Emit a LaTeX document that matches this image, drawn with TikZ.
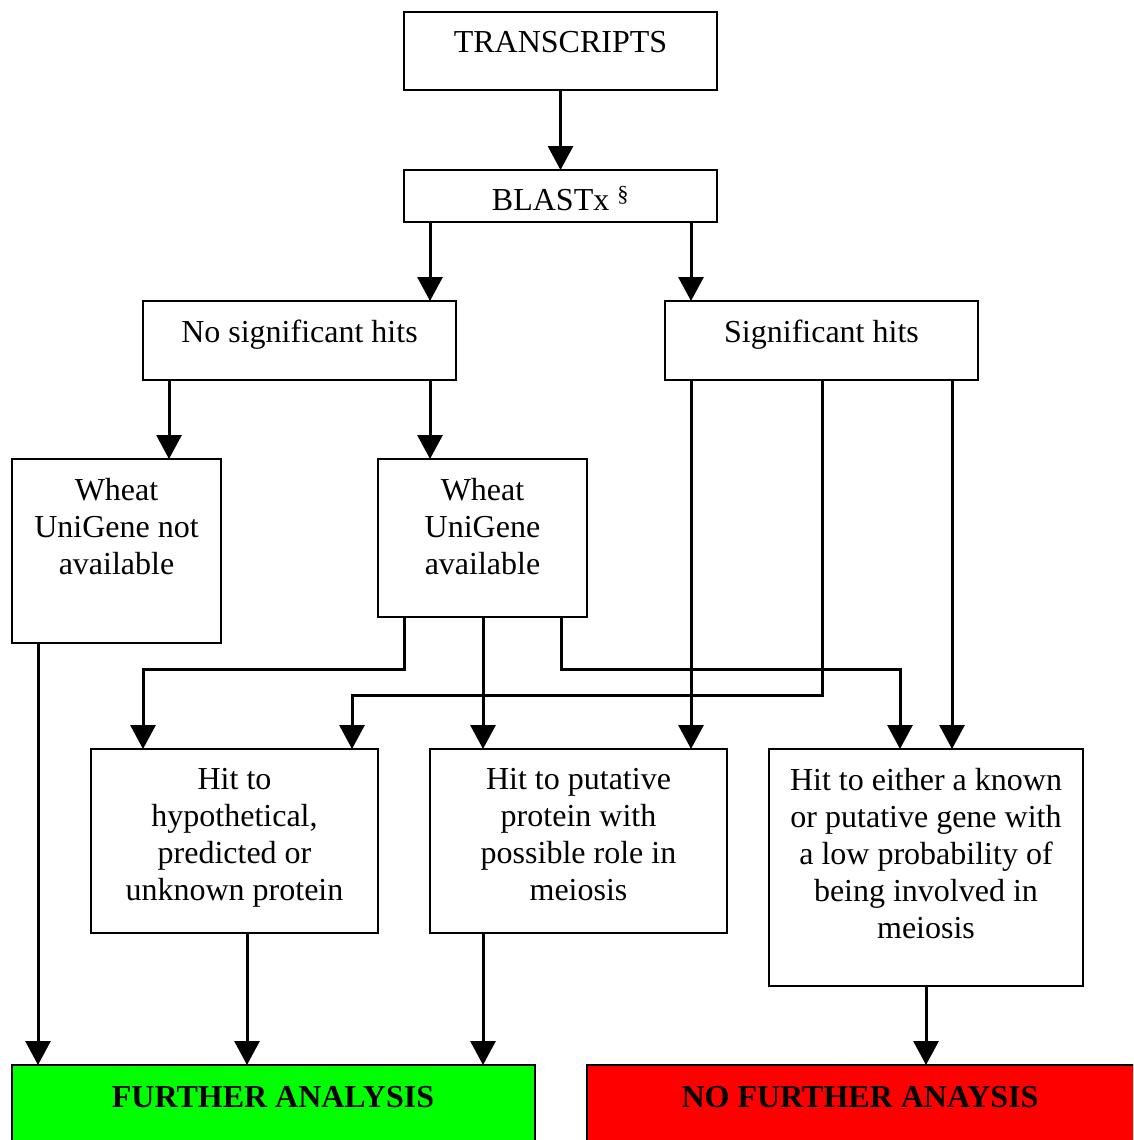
\documentclass[tikz,border=0pt]{standalone}
\usepackage{fontspec}
\setmainfont{Liberation Serif}
\usetikzlibrary{arrows.meta}
\definecolor{goGreen}{RGB}{0,255,0}
\definecolor{stopRed}{RGB}{255,0,0}
\tikzset{
  box/.style={draw, line width=1.6pt, inner sep=0pt, outer sep=0pt, anchor=north west},
  txt/.style={inner sep=0pt, anchor=north, align=center,
              font=\fontsize{32}{37}\selectfont},
  bold/.style={txt, font=\fontsize{32}{37}\selectfont\bfseries},
  arr/.style={line width=3pt, -{Triangle[width=25pt,length=24pt]}}
}
\begin{document}
\begin{tikzpicture}[x=1pt,y=-1pt]
\clip (0,0) rectangle (1133,1140);
\useasboundingbox (0,0) rectangle (1133,1140);

% boxes
\node[box, minimum width=313, minimum height=78]  (ts)  at (404,12)  {};
\node[box, minimum width=313, minimum height=52]  (bl)  at (404,170) {};
\node[box, minimum width=313, minimum height=79]  (nsh) at (143,301) {};
\node[box, minimum width=313, minimum height=79]  (sh)  at (665,301) {};
\node[box, minimum width=209, minimum height=184] (wna) at (12,459)  {};
\node[box, minimum width=209, minimum height=158] (wa)  at (378,459) {};
\node[box, minimum width=287, minimum height=184] (hyp) at (91,749)  {};
\node[box, minimum width=297, minimum height=184] (put) at (430,749) {};
\node[box, minimum width=314, minimum height=237] (low) at (769,749) {};
\node[box, fill=goGreen, minimum width=523, minimum height=100] (fa)  at (12,1065)  {};
\node[box, fill=stopRed, minimum width=560, minimum height=100] (nfa) at (587,1065) {};

% labels, hung from the top edge of each box
\node[txt] (tsT)  at ([yshift=-19]ts.north)  {TRANSCRIPTS};
\node[txt] (blT)  at ([yshift=-16]bl.north)  {BLASTx \textsuperscript{§}};
\node[txt] (nshT) at ([yshift=-19]nsh.north) {No significant hits};
\node[txt] (shT)  at ([yshift=-19]sh.north)  {Significant hits};
\node[txt] (wnaT) at ([yshift=-19]wna.north) {Wheat\\UniGene not\\available};
\node[txt] (waT)  at ([yshift=-19]wa.north)  {Wheat\\UniGene\\available};
\node[txt] (hypT) at ([yshift=-19]hyp.north) {Hit to\\hypothetical,\\predicted or\\unknown protein};
\node[txt] (putT) at ([yshift=-19]put.north) {Hit to putative\\protein with\\possible role in\\meiosis};
\node[txt] (lowT) at ([yshift=-19]low.north) {Hit to either a known\\or putative gene with\\a low probability of\\being involved in\\meiosis};
\node[bold] (faT)  at ([yshift=-21]fa.north -| 273,0)  {FURTHER ANALYSIS};
\node[bold] (nfaT) at ([yshift=-21]nfa.north -| 860,0) {NO FURTHER ANAYSIS};

% connectors
\draw[arr] (ts.south) -- (bl.north);
\draw[arr] ([xshift=26]bl.south west) -- ([xshift=287]nsh.north west);
\draw[arr] ([xshift=287]bl.south west) -- ([xshift=26]sh.north west);
\draw[arr] ([xshift=26]nsh.south west) -- ([xshift=157]wna.north west);
\draw[arr] ([xshift=287]nsh.south west) -- ([xshift=52]wa.north west);

\draw[arr] ([xshift=26]wa.south west) -- ++(0,52) -| ([xshift=52]hyp.north west);
\draw[arr] ([xshift=105]wa.south west) -- ([xshift=53]put.north west);
\draw[arr] ([xshift=183]wa.south west) -- ++(0,52) -| ([xshift=131]low.north west);

\draw[arr] ([xshift=26]sh.south west) -- ([xshift=261]put.north west);
\draw[arr] ([xshift=157]sh.south west) -- ++(0,315) -| ([xshift=261]hyp.north west);
\draw[arr] ([xshift=287]sh.south west) -- ([xshift=183]low.north west);

\draw[arr] ([xshift=26]wna.south west) -- ([xshift=26]fa.north west);
\draw[arr] ([xshift=156]hyp.south west) -- ([xshift=235]fa.north west);
\draw[arr] ([xshift=53]put.south west) -- ([xshift=471]fa.north west);
\draw[arr] ([xshift=157]low.south west) -- ([xshift=339]nfa.north west);
\end{tikzpicture}
\end{document}
